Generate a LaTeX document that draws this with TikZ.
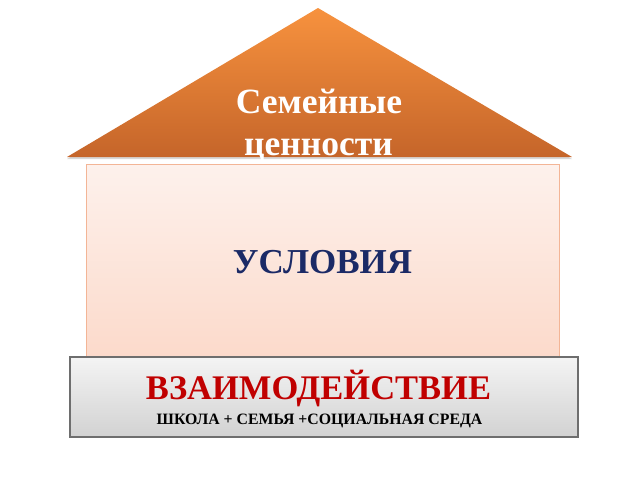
\documentclass[tikz,border=0pt]{standalone}
\usepackage{fontspec}
\setmainfont{Liberation Serif}
\usetikzlibrary{shadows}
\definecolor{roofTop}{HTML}{F7923E}
\definecolor{roofBot}{HTML}{C5652A}
\definecolor{wallTop}{HTML}{FDF1EC}
\definecolor{wallBot}{HTML}{FCDACB}
\definecolor{wallLine}{HTML}{F3B596}
\definecolor{baseTop}{HTML}{F4F4F4}
\definecolor{baseBot}{HTML}{D2D2D2}
\definecolor{baseLine}{HTML}{6E6E6E}
\definecolor{navy}{HTML}{1B2A66}
\definecolor{darkred}{HTML}{C00000}
\tikzset{
  roof/.style={top color=roofTop, bottom color=roofBot, draw=none,
    drop shadow={shadow xshift=0pt, shadow yshift=-2pt, opacity=0.25, fill=black!60}},
  wall/.style={top color=wallTop, bottom color=wallBot, draw=wallLine, line width=1pt},
  basebox/.style={top color=baseTop, bottom color=baseBot, draw=baseLine, line width=1.5pt,
    drop shadow={shadow xshift=1.5pt, shadow yshift=-1.5pt, opacity=0.35}},
  rooftext/.style={text=white, font=\bfseries\fontsize{35.5}{42}\selectfont, anchor=base, inner sep=0pt},
  walltext/.style={text=navy, font=\bfseries\fontsize{35}{40}\selectfont, anchor=base, inner sep=0pt},
  basetext/.style={text=darkred, font=\bfseries\fontsize{34.5}{40}\selectfont, anchor=base, inner sep=0pt},
  subtext/.style={text=black, font=\bfseries\fontsize{15.8}{18}\selectfont, anchor=base, inner sep=0pt}
}
\begin{document}
\begin{tikzpicture}[x=1pt,y=-1pt]
\useasboundingbox (0,0) rectangle (640,480);
\fill[white] (0,0) rectangle (640,480);
% roof
\coordinate (apex) at (318,8);
\coordinate (rl) at (67,157);
\coordinate (rr) at (572,157);
\path[roof] (apex) -- (rr) -- (rl) -- cycle;
% wall
\node[wall, minimum width=473pt, minimum height=192pt, inner sep=0pt, anchor=north west] (wallbox) at (86,164) {};
\node[walltext] (cond) at (322.5,273.5) {УСЛОВИЯ};
% base
\node[basebox, minimum width=508pt, minimum height=80pt, inner sep=0pt, anchor=north west] (basebox) at (69,356) {};
\node[basetext] (inter) at (318.5,399) {ВЗАИМОДЕЙСТВИЕ};
\node[subtext] (sub) at (319.5,424) {ШКОЛА + СЕМЬЯ +СОЦИАЛЬНАЯ СРЕДА};
% roof text
\node[rooftext] (values1) at (319,113) {Семейные};
\node[rooftext] (values2) at (318.5,155.5) {ценности};
\end{tikzpicture}
\end{document}
